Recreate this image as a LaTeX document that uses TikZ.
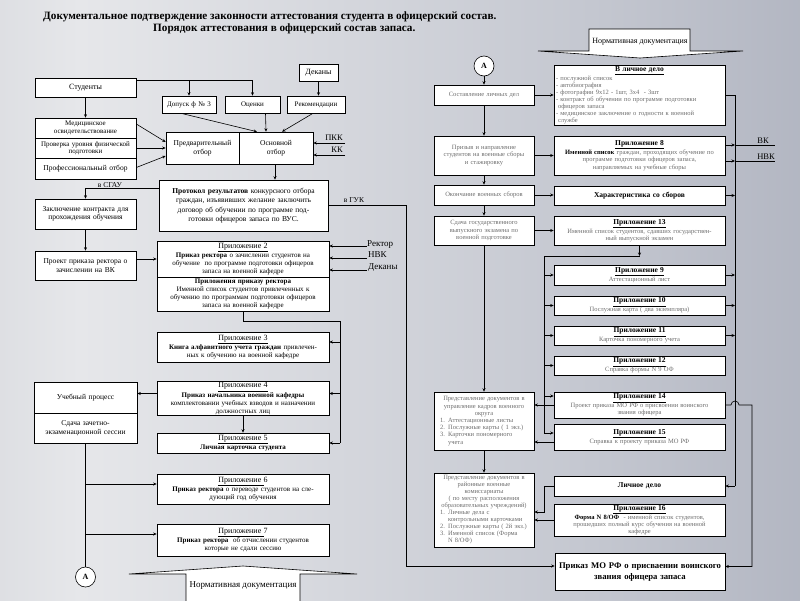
\documentclass[tikz,border=0pt]{standalone}
\usepackage{fontspec}
\setmainfont{Liberation Serif}
\usetikzlibrary{calc,arrows.meta}
\definecolor{bgL}{RGB}{180,183,192}
\definecolor{bgM}{RGB}{230,231,234}
\definecolor{bgQ}{RGB}{196,199,208}
\definecolor{bgR}{RGB}{146,151,168}
\definecolor{tg}{RGB}{110,110,110}
\pgfdeclarehorizontalshading{bgsh}{100bp}{color(0bp)=(bgL); color(30bp)=(bgM); color(62bp)=(bgQ); color(100bp)=(bgR)}
\newcommand\myfs[2]{\fontsize{#1}{#2}\selectfont}
\newcommand\mybox[7][]{%
  \pgfmathsetmacro\mybw{#5-#3}%
  \pgfmathsetmacro\mybh{#6-#4}%
  \pgfmathsetmacro\mybt{#5-#3-4}%
  \node[box,minimum width=\mybw pt,minimum height=\mybh pt,text width=\mybt pt,#1] (#2) at ({(#3+#5)/2},{(#4+#6)/2}) {#7};}
\newcommand\myhd[1]{{\myfs{8}{9}\underline{#1}}}
\newcommand\myrhd[1]{{\myfs{7.5}{8}\bfseries\underline{#1}}}
\begin{document}
\begin{tikzpicture}[x=1pt,y=-1pt,
  box/.style={draw=black,fill=white,line width=0.6pt,inner sep=1pt,align=center,font=\myfs{7}{8}},
  gbox/.style={box,font=\myfs{6.5}{7.2}\color{tg}},
  arr/.style={line width=0.6pt,-{Stealth[length=3.5pt,width=3pt]}},
  ln/.style={line width=0.6pt},
  lbl/.style={inner sep=0pt,font=\myfs{7.5}{8}}]
\useasboundingbox (0,0) rectangle (800,600);
\shade[shading=bgsh] (0,0) rectangle (800,600);

% titles
\node[anchor=west,inner sep=0pt,font=\bfseries\myfs{11.2}{13}] (t1) at (43,17) {Документальное подтверждение законности аттестования студента в офицерский состав.};
\node[anchor=west,inner sep=0pt,font=\bfseries\myfs{11.2}{13}] (t2) at (153,29) {Порядок аттестования в офицерский состав запаса.};

% ---------------- left part
\mybox[font=\myfs{8}{9}]{dek}{299}{64}{338}{81}{Деканы}
\mybox[font=\myfs{8}{9}]{stud}{35}{78}{136}{97}{Студенты}
\mybox[font=\myfs{7}{8}]{dop}{162}{96}{216}{113}{Допуск ф № 3}
\mybox[font=\myfs{7}{8}]{ocen}{225}{96}{280}{113}{Оценки}
\mybox[font=\myfs{7}{8}]{rek}{287}{96}{345}{113}{Рекомендации}
\mybox[font=\myfs{7}{7.5}]{med}{35}{118}{136}{138}{Медицинское\\освидетельствование}
\mybox[font=\myfs{7}{7.5}]{fiz}{35}{138}{136}{158}{Проверка уровня физической\\подготовки}
\mybox[font=\myfs{7.5}{8}]{prof}{35}{158}{136}{179}{Профессиональный отбор}
\mybox[font=\myfs{7.5}{9}]{pred}{166}{132}{239}{164}{Предварительный\\отбор}
\mybox[font=\myfs{7.5}{9}]{osn}{239}{132}{313}{164}{Основной\\отбор}
\mybox[font=\myfs{7.5}{9.5}]{prot}{159}{180}{328}{231}{\textbf{Протокол результатов} конкурсного отбора\\граждан, изъявивших желание заключить\\договор об обучении по программе под-\\готовки офицеров запаса по ВУС.}
\mybox[font=\myfs{7.5}{8.5}]{zak}{35}{199}{136}{229}{Заключение контракта для\\прохождения обучения}
\mybox[font=\myfs{7.5}{8.5}]{proekt}{35}{251}{136}{280}{Проект приказа ректора о\\зачислении на ВК}
\mybox{p2}{157}{241}{329}{277}{\myhd{Приложение 2}\\\textbf{Приказ ректора} о зачислении студентов на\\обучение \ по программе подготовки офицеров\\запаса на военной кафедре}
\mybox{p2a}{157}{277}{329}{311}{\textbf{Приложения приказу ректора}\\Именной список студентов привлеченных к\\обучению по программам подготовки офицеров\\запаса на военной кафедре}
\mybox{p3}{157}{332}{329}{362}{\myhd{Приложение 3}\\\textbf{Книга алфавитного учета граждан} привлечен-\\ных к обучению на военной кафедре}
\mybox{p4}{157}{382}{329}{415}{\myhd{Приложение 4}\\\textbf{Приказ начальника военной кафедры}\\комплектовании учебных взводов и назначении\\должностных лиц}
\mybox{p5}{157}{433}{329}{453}{\myhd{Приложение 5}\\\textbf{Личная карточка студента}}
\mybox[font=\myfs{7.5}{8.5}]{ucheb}{34}{382}{137}{413}{Учебный процесс}
\mybox[font=\myfs{7.5}{8.5}]{sdacha}{34}{413}{137}{443}{Сдача зачетно-\\экзаменационной сессии}
\mybox{p6}{157}{474}{329}{504}{{\myfs{8}{9}\underline{Приложение }6}\\\textbf{Приказ ректора} о переводе студентов на сле-\\дующий год обучения}
\mybox{p7}{157}{524}{329}{556}{{\myfs{8}{9}\underline{Приложение }7}\\\textbf{Приказ ректора} \ об отчислении студентов\\которые не сдали сессию}
\node[draw,fill=white,circle,line width=0.6pt,minimum size=20pt,inner sep=0pt,font=\bfseries\myfs{8}{9}] (A1) at (85.5,577) {А};

% bottom block arrow
\draw[fill=white,ln] (186,601) -- (186,574) -- (129,574) -- (243,566) -- (357,574) -- (300,574) -- (300,601);
\node[inner sep=0pt,font=\myfs{9}{10}] (nd2) at (243,586) {Нормативная документация};

% left connectors
\coordinate (j1) at (252.5,80);
\draw[ln] (stud.east |- j1) -- (j1);
\draw[arr] (dop.north |- j1) -- (dop.north);
\draw[arr] (j1) -- (ocen.north);
\draw[arr] (dek.south) -- (dek.south |- rek.north);
\draw[arr] (stud.south) -- (med.north);
\draw[arr] ($(med.east)+(0,-4)$) -- ($(pred.west)+(0,-6)$);
\draw[arr] (fiz.east) -- (fiz.east -| pred.west);
\draw[arr] ($(prof.east)+(0,-1)$) -- ($(pred.west)+(0,8)$);
\draw[arr] ($(dop.south)+(-8,0)$) -- ($(osn.north)+(-19,0)$);
\draw[arr] ($(ocen.south)+(13,0)$) -- ($(osn.north)+(-10,0)$);
\draw[arr] ($(rek.south)+(-3,0)$) -- ($(osn.north)+(6,0)$);
\coordinate (pkk) at (345,143);
\coordinate (kk) at (345,155);
\draw[arr] (pkk) -- (pkk -| osn.east);
\draw[arr] (kk) -- (kk -| osn.east);
\node[lbl,anchor=base,font=\myfs{8.5}{9}] (lpkk) at (334,140) {ПКК};
\node[lbl,anchor=base,font=\myfs{8.5}{9}] (lkk) at (337,152) {КК};
\draw[arr] ($(osn.south)+(-1,0)$) -- ($(osn.south |- prot.north)+(-1,0)$);
\draw[arr] ($(prot.north west)+(0,9)$) -| (zak.north);
\node[lbl,anchor=base] (lsgau) at (110,187.5) {в СГАУ};
\node[lbl,anchor=base] (lguk) at (354,202) {в ГУК};
\draw[arr] (zak.south) -- (proekt.north);
\draw[arr] (proekt.east |- p2.west) -- (p2.west);
\coordinate (r1) at (367,246);
\coordinate (r2) at (367,258);
\coordinate (r3) at (367,270);
\draw[arr] (r1) -- (r1 -| p2.east);
\draw[arr] (r2) -- (r2 -| p2.east);
\draw[arr] (r3) -- (r3 -| p2.east);
\node[lbl,anchor=base west,font=\myfs{9}{10}] (lrek) at (367,246) {Ректор};
\node[lbl,anchor=base west,font=\myfs{9}{10}] (lnvk) at (368,257) {НВК};
\node[lbl,anchor=base west,font=\myfs{9}{10}] (ldek) at (368,269) {Деканы};
\coordinate (v1) at (340,321);
\draw[ln] (p2a.south) |- (v1) -- (v1 |- p5.east);
\draw[arr] ($(v1 |- p3.east)+(0,-5)$) -- ($(p3.east)+(0,-5)$);
\draw[arr] ($(v1 |- p4.east)+(0,-5)$) -- ($(p4.east)+(0,-5)$);
\draw[arr] (v1 |- p5.east) -- (p5.east);
\draw[arr] ($(p4.west)+(0,-5)$) -- ($(p4.west -| ucheb.east)+(0,-5)$);
\draw[arr] (p4.south) -- (p5.north);
\draw[ln] (sdacha.south) -- (A1.north);
\draw[arr] ($(sdacha.south |- p6.west)+(0,-5)$) -- ($(p6.west)+(0,-5)$);
\draw[arr] ($(sdacha.south |- p7.west)+(0,-6)$) -- ($(p7.west)+(0,-6)$);

% ---------------- right part
\draw[fill=white,ln] (589,29) -- (690,29) -- (690,51) -- (743,51) -- (640,58) -- (538,51) -- (589,51) -- cycle;
\node[inner sep=0pt,font=\myfs{8}{9}] (nd1) at (640,42) {Нормативная документация};
\node[draw,fill=white,circle,line width=0.6pt,minimum size=20pt,inner sep=0pt,font=\bfseries\myfs{8}{9}] (A2) at (484,66) {А};

\mybox[gbox]{sost}{434}{85}{534}{105}{Составление личных дел}
\mybox[gbox]{priz}{434}{136}{534}{175}{Призыв и направление\\студентов на военные сборы\\и стажировку}
\mybox[gbox]{okon}{434}{185}{534}{205}{Окончание военных сборов}
\mybox[gbox]{sdgos}{434}{216}{534}{245}{Сдача государственного\\выпускного экзамена по\\военной подготовке}
\mybox[gbox,align=left]{predst1}{434}{392}{534}{450}{{\centering Представление документов в\\управление кадров военного\\округа\par}\hspace*{4pt}1. Аттестационные листы\\\hspace*{4pt}2. Послужные карты ( 1 экз.)\\\hspace*{4pt}3. Карточки пономерного\\\hspace*{12pt}учета}
\mybox[gbox,align=left,font=\myfs{6.5}{7}\color{tg}]{predst2}{434}{473}{534}{547}{{\centering Представление документов в\\районные военные\\комиссариаты\\( по месту расположения\\образовательных учреждений)\par}\hspace*{4pt}1. Личные дела с\\\hspace*{12pt}контрольными карточками\\\hspace*{4pt}2. Послужные карты ( 2й экз.)\\\hspace*{4pt}3. Именной список (Форма\\\hspace*{12pt}N 8/ОФ)}

\mybox[gbox,align=left,font=\myfs{6.5}{7}\color{tg}]{lich1}{554}{65}{725}{125}{{\centering\color{black}\myrhd{В личное дело}\par}- послужной список\\- автобиография\\- фотографии 9х12 - 1шт, 3х4 \ - 3шт\\- контракт об обучении по программе подготовки\\\hspace*{2pt}офицеров запаса\\- медицинское заключение о годности к военной\\\hspace*{2pt}службе}
\mybox[gbox]{p8}{554}{136}{725}{175}{{\color{black}\myrhd{Приложение 8}}\\{\color{black}\bfseries Именной список} граждан, проходящих обучение по\\программе подготовки офицеров запаса,\\направляемых на учебные сборы}
\mybox[box,font=\bfseries\myfs{7.5}{8}]{har}{554}{186}{725}{205}{Характеристика со сборов}
\mybox[gbox]{p13}{554}{216}{725}{245}{{\color{black}\myrhd{Приложение 13}}\\Именной список студентов, сдавших государствен-\\ный выпускной экзамен}
\mybox[gbox]{p9}{554}{265}{725}{285}{{\color{black}\myrhd{Приложение 9}}\\Аттестационный лист}
\mybox[gbox]{p10}{554}{296}{725}{315}{{\color{black}\myrhd{Приложение 10}}\\Послужная карта ( два экземпляра)}
\mybox[gbox]{p11}{554}{326}{725}{345}{{\color{black}\myrhd{Приложение 11}}\\Карточка пономерного учета}
\mybox[gbox]{p12}{554}{356}{725}{375}{{\color{black}\myrhd{Приложение 12}}\\Справка формы N 9 ОФ}
\mybox[gbox]{p14}{554}{392}{725}{418}{{\color{black}\myrhd{Приложение 14}}\\Проект приказа МО РФ о присвоении воинского\\звания офицера}
\mybox[gbox]{p15}{554}{424}{725}{450}{{\color{black}\myrhd{Приложение 15}}\\Справка к проекту приказа МО РФ}
\mybox[box,font=\bfseries\myfs{7.5}{8}]{lich2}{554}{476}{725}{496}{Личное дело}
\mybox[gbox]{p16}{554}{504}{725}{536}{{\color{black}\myrhd{Приложение 16}}\\{\color{black}\bfseries Форма N 8/ОФ} \ - именной список студентов,\\прошедших полный курс обучения на военной\\кафедре}
\mybox[box,font=\bfseries\myfs{10}{12.5}]{prikaz}{555}{553}{725}{590}{\resizebox{162pt}{!}{\begin{tabular}{@{}c@{}}Приказ МО РФ о присваении воинского\\звания офицера запаса\end{tabular}}}

% right connectors
\coordinate (guk) at (406,566);
\draw[arr] (prot.east) -| (guk) -- (guk -| prikaz.west);
\draw[arr] (A2.south) -- (sost.north);
\draw[arr] (sost.south) -- (priz.north);
\draw[arr] (priz.south) -- (okon.north);
\draw[arr] (okon.south) -- (sdgos.north);
\draw[arr] (sdgos.south) -- (predst1.north);
\draw[arr] (predst1.south) -- (predst2.north);
\draw[arr] (sost.east) -- (lich1.west);
\draw[arr] (priz.east) -- (p8.west);
\draw[arr] (okon.east) -- (okon.east -| har.west);
\draw[arr] (sdgos.east) -- (p13.west);

\coordinate (rv) at (735,95);
\draw[ln] (lich1.east) -- (rv) -- (rv |- lich2.east);
\draw[arr] (rv |- lich2.east) -- (lich2.east);
\coordinate (rvk) at (735,145);
\coordinate (rnvk) at (735,161);
\coordinate (vk) at (775,145);
\coordinate (nvk) at (775,161);
\draw[arr] (rvk -| p8.east) -- (rvk);
\draw[arr] (rnvk -| p8.east) -- (rnvk);
\draw[ln] (rvk) -- (vk);
\draw[ln] (rnvk) -- (nvk);
\node[lbl,anchor=base east,font=\myfs{8.5}{9}] (lvk) at (769,143) {ВК};
\node[lbl,anchor=base east,font=\myfs{8.5}{9}] (lnvk2) at (775,159) {НВК};
\draw[arr] (har.east) -- (har.east -| rv);
\draw[arr] (p9.east) -- (p9.east -| rv);
\draw[arr] (p10.east) -- (p10.east -| rv);
\draw[arr] (p11.east) -- (p11.east -| rv);

\coordinate (h13) at (544,256);
\coordinate (h14) at (544,396);
\coordinate (h15) at (544,433);
\draw[arr] (p13.south) -- (p13.south |- h13);
\draw[ln] (p13.south |- h13) -- (h13) -- (h15);
\draw[arr] (h13 |- p9.west) -- (p9.west);
\draw[arr] (h13 |- p10.west) -- (p10.west);
\draw[arr] (h13 |- p11.west) -- (p11.west);
\draw[arr] (h13 |- p12.west) -- (p12.west);
\draw[arr] (h14) -- (h14 -| p14.west);
\draw[arr] (h15) -- (h15 -| p15.west);
\draw[arr] (p14.west) -- (p14.west -| predst1.east);
\draw[arr] ($(p15.west)+(0,5)$) -- ($(p15.west -| predst1.east)+(0,5)$);
\coordinate (hop) at (752,405);
\draw[arr] (p14.east) -- ($(p14.east -| rv)+(-4,0)$) arc[start angle=180,end angle=360,radius=4] -- (hop) |- ($(prikaz.east)+(0,-5)$);
\coordinate (l2a) at (544,512);
\draw[arr] (lich2.west) -| (l2a) -- (l2a -| predst2.east);
\draw[arr] (p16.west) -- (p16.west -| predst2.east);
\end{tikzpicture}
\end{document}
